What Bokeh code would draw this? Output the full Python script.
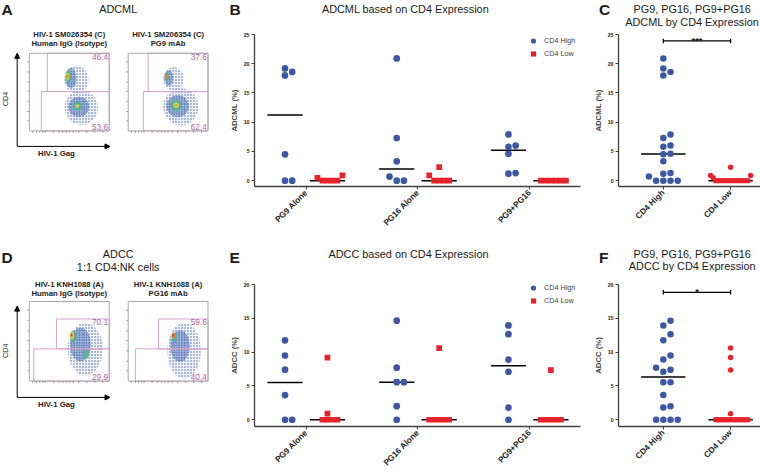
import numpy as np
from bokeh.plotting import figure
from bokeh.models import Range1d, Label, Legend, LegendItem, FixedTicker, Arrow, NormalHead
from bokeh.layouts import row, column
from bokeh.embed import file_html
from bokeh.resources import INLINE
from bokeh.core.properties import value

FONT = "Liberation Sans"
BLUE = "#3c58a5"
RED = "#e8222b"
AX = "#404040"
TXT = "#1a1a1a"
PINK_LINE = "#d7a3cc"
PINK_TEXT = "#bb5fa3"
BOXC = "#a8a8a8"

# ---------------- data: ADCML (%) panels B / C ----------------
groups = ["PG9 Alone", "PG16 Alone", "PG9+PG16"]
pooled = ["CD4 High", "CD4 Low"]
adcml_high_pg9 = [18.0, 19.2, 18.6, 4.5, 0.0, 0.0]
adcml_high_pg16 = [20.9, 7.3, 3.3, 0.7, 0.0, 0.0]
adcml_high_combo = [7.9, 5.8, 6.0, 4.6, 1.2, 1.3]
adcml_low_pg9 = [0.5, 0.0, 0.0, 0.0, 0.0, 0.9]
adcml_low_pg16 = [0.9, 2.3, 0.0, 0.0, 0.0, 0.0]
adcml_low_combo = [0.0, 0.0, 0.0, 0.0, 0.0, 0.0]
# ---------------- data: ADCC (%) panels E / F ----------------
adcc_high_pg9 = [11.75, 9.5, 7.4, 3.65, 0.0, 0.0]
adcc_high_pg16 = [14.65, 7.7, 5.55, 5.55, 2.0, 0.0]
adcc_high_combo = [13.95, 12.65, 8.9, 7.1, 1.8, 0.0]
adcc_low_pg9 = [0.9, 9.2, 0.0, 0.0, 0.0, 0.0]
adcc_low_pg16 = [10.6, 0.0, 0.0, 0.0, 0.0, 0.0]
adcc_low_combo = [7.35, 0.0, 0.0, 0.0, 0.0, 0.0]
adcml_ticks = [0, 5, 10, 15, 20, 25]
adcc_ticks = [0, 5, 10, 15, 20]
sig_adcml = ("***", 23.9)
sig_adcc = ("*", 18.84)

# ---------------- flow cytometry panels A / D ----------------
flowA1_title = ["HIV-1 SM026354 (C)", "Human IgG (Isotype)"]
flowA2_title = ["HIV-1 SM206354 (C)", "PG9 mAb"]
flowD1_title = ["HIV-1 KNH1088 (A)", "Human IgG (Isotype)"]
flowD2_title = ["HIV-1 KNH1088 (A)", "PG16 mAb"]
flowA1_pct = ["46.4", "53.6"]
flowA2_pct = ["37.6", "62.4"]
flowD1_pct = ["70.1", "29.9"]
flowD2_pct = ["59.6", "40.4"]
# gates: upper-left, upper-top, lower-left, split (fractions of the plot)
flowA1_gate = [0.225, 1.0, 0.15, 0.507]
flowA2_gate = [0.25, 1.0, 0.19, 0.507]
flowD1_gate = [0.34, 0.78, 0.055, 0.405]
flowD2_gate = [0.38, 0.78, 0.09, 0.405]
# density clouds: (x, y, width, height, density level)
flowA1_cells = [(0.59, 0.66, 0.30, 0.36, 0), (0.52, 0.68, 0.14, 0.26, 1), (0.49, 0.70, 0.07, 0.16, 2),
                (0.48, 0.70, 0.04, 0.10, 3), (0.475, 0.70, 0.025, 0.05, 4),
                (0.65, 0.30, 0.42, 0.44, 0), (0.62, 0.31, 0.26, 0.26, 1), (0.60, 0.32, 0.12, 0.12, 2),
                (0.60, 0.32, 0.05, 0.05, 3)]
flowA2_cells = [(0.57, 0.67, 0.26, 0.30, 0), (0.51, 0.68, 0.11, 0.20, 1), (0.485, 0.70, 0.05, 0.12, 2),
                (0.475, 0.70, 0.03, 0.07, 4),
                (0.66, 0.31, 0.44, 0.48, 0), (0.62, 0.32, 0.28, 0.28, 1), (0.60, 0.33, 0.15, 0.14, 2),
                (0.60, 0.33, 0.07, 0.07, 3), (0.60, 0.33, 0.03, 0.03, 4)]
flowD1_cells = [(0.70, 0.40, 0.44, 0.66, 0), (0.64, 0.46, 0.26, 0.42, 1), (0.71, 0.34, 0.07, 0.12, 2),
                (0.55, 0.56, 0.08, 0.15, 2), (0.535, 0.57, 0.05, 0.10, 3), (0.53, 0.575, 0.03, 0.06, 4),
                (0.525, 0.58, 0.015, 0.03, 5)]
flowD2_cells = [(0.70, 0.38, 0.42, 0.70, 0), (0.65, 0.44, 0.24, 0.40, 1), (0.58, 0.55, 0.07, 0.12, 2),
                (0.565, 0.57, 0.04, 0.08, 4), (0.56, 0.575, 0.02, 0.04, 5)]
flow_yticks = [0.13, 0.25, 0.38, 0.51, 0.63, 0.76, 0.89]
flow_xticks = [0.04, 0.09, 0.13, 0.17, 0.2, 0.3, 0.37, 0.42, 0.46, 0.5, 0.55, 0.62, 0.72, 0.82, 0.92]

LEVELS = [
    dict(fill_color="#e3eaf6", fill_alpha=0.5, hatch_pattern="dot", hatch_color="#3e5fae", hatch_scale=3.0, hatch_weight=0.9),
    dict(fill_color="#6f8fca", fill_alpha=0.55, hatch_pattern="dot", hatch_color="#27458f", hatch_scale=2.5, hatch_weight=1.0),
    dict(fill_color="#53b08f", fill_alpha=0.85),
    dict(fill_color="#d8d64a", fill_alpha=0.9),
    dict(fill_color="#f08633", fill_alpha=0.95),
    dict(fill_color="#d9362a", fill_alpha=1.0),
]

# ---------------- layout (css pixels) ----------------
S = 1.035                     # size factor
W_A, W_B, W_C = 212, 371, 179
H_HEAD1, H_BODY1 = 30, 206
H_HEAD2, H_BODY2 = 37, 200
TOP1, BOT1 = 4, 50
TOP2, BOT2 = 11, 44
L_B, R_B = 42, 3
L_C, R_C = 35, 0
H_ROW1 = H_HEAD1 + H_BODY1
H_ROW2 = H_HEAD2 + H_BODY2


def fs(px):
    return "%.2fpx" % (px * S)


def swarm(vals, ppu, d):
    vals = np.asarray(vals, float)
    order = np.argsort(vals, kind="stable")
    cand = [0]
    for k in range(1, 40):
        cand += [k, -k]
    placed = []
    slots = np.zeros(len(vals))
    for i in order:
        y = vals[i] * ppu
        taken = {s for yy, s in placed if abs(yy - y) < d}
        c = next(c for c in cand if c not in taken)
        slots[i] = c
        placed.append((y, c))
    return slots


def canvas(w, h, xr, yr):
    p = figure(width=w, height=h, x_range=Range1d(*xr), y_range=Range1d(*yr),
               output_backend="svg", toolbar_location=None, tools="", min_border=0,
               x_axis_type=None, y_axis_type=None)
    p.outline_line_color = None
    p.grid.visible = False
    return p


def txt(p, x, y, text, size, bold=False, align="center", baseline="middle", color=TXT, angle=0.0):
    p.text(x=x, y=y, text=text, text_font=value(FONT), text_font_size=size,
           text_font_style="bold" if bold else "normal", text_align=align, text_baseline=baseline,
           text_color=color, angle=angle)


def style_axes(p, xticks, xlabels, yticks, ylabel):
    p.xaxis.ticker = FixedTicker(ticks=xticks)
    p.xaxis.major_label_overrides = {t: l for t, l in zip(xticks, xlabels)}
    p.xaxis.major_label_orientation = np.pi / 4
    p.yaxis.ticker = FixedTicker(ticks=yticks)
    p.yaxis.axis_label = ylabel
    for ax in (p.xaxis[0], p.yaxis[0]):
        ax.axis_line_color = AX
        ax.axis_line_width = 1.35
        ax.major_tick_line_color = AX
        ax.major_tick_line_width = 1.1
        ax.major_tick_in = 0
        ax.major_tick_out = 3
        ax.minor_tick_line_color = None
        ax.major_label_text_font = FONT
        ax.major_label_text_font_style = "bold"
        ax.major_label_text_color = "#222222"
    p.yaxis.major_label_text_font_size = fs(5)
    p.yaxis.major_label_standoff = 2
    p.yaxis.axis_label_text_font = FONT
    p.yaxis.axis_label_text_font_style = "bold"
    p.yaxis.axis_label_text_font_size = fs(7.5)
    p.yaxis.axis_label_standoff = 2
    p.xaxis.major_label_text_font_size = fs(8)
    p.xaxis.major_label_standoff = 2


def grouped_panel(highs, lows, ymax, yticks, ylabel, h, ft, fb, legend_y):
    xr = (0.537, 3.455)
    p = figure(width=W_B, height=h, x_range=Range1d(*xr), y_range=Range1d(-1.0, ymax),
               output_backend="svg", toolbar_location=None, tools="",
               min_border_left=L_B, min_border_right=R_B, min_border_top=ft, min_border_bottom=fb)
    p.outline_line_color = None
    p.grid.visible = False
    frame_w = W_B - L_B - R_B
    frame_h = h - ft - fb
    ppu = frame_h / (ymax + 1.0)
    xppu = frame_w / (xr[1] - xr[0])
    bx, by, rx, ry = [], [], [], []
    for i, (hv, lv) in enumerate(zip(highs, lows)):
        c = i + 1
        sh = swarm(hv, ppu, 6.5)
        sl = swarm(lv, ppu, 6.2)
        bx += list(c - 0.19 + sh * 7.2 / xppu)
        by += list(hv)
        rx += list(c + 0.19 + sl * 5.0 / xppu)
        ry += list(lv)
        hw = 17.6 / xppu
        p.segment(x0=[c - 0.19 - hw, c + 0.19 - hw], x1=[c - 0.19 + hw, c + 0.19 + hw],
                  y0=[np.median(hv), np.median(lv)], y1=[np.median(hv), np.median(lv)],
                  line_color="black", line_width=1.5, level="underlay")
    rb = p.scatter(bx, by, marker="circle", size=6.7, fill_color=BLUE, line_color=None)
    rr = p.scatter(rx, ry, marker="square", size=5.7, fill_color=RED, line_color=None)
    style_axes(p, [1, 2, 3], groups, yticks, ylabel)
    leg = Legend(items=[LegendItem(label="CD4 High", renderers=[rb]), LegendItem(label="CD4 Low", renderers=[rr])],
                 location=(271, legend_y), border_line_color=None, background_fill_alpha=0,
                 padding=0, margin=0, spacing=0, glyph_width=16, glyph_height=13, label_height=13,
                 label_standoff=3, label_text_font=FONT, label_text_font_size=fs(7))
    p.add_layout(leg)
    return p


def pooled_panel(high, low, ymax, yticks, ylabel, sig, h, ft, fb):
    xr = (0.334, 2.474)
    p = figure(width=W_C, height=h, x_range=Range1d(*xr), y_range=Range1d(-1.0, ymax),
               output_backend="svg", toolbar_location=None, tools="",
               min_border_left=L_C, min_border_right=R_C, min_border_top=ft, min_border_bottom=fb)
    p.outline_line_color = None
    p.grid.visible = False
    frame_w = W_C - L_C - R_C
    frame_h = h - ft - fb
    ppu = frame_h / (ymax + 1.0)
    xppu = frame_w / (xr[1] - xr[0])
    sh = swarm(high, ppu, 6.7)
    sl = swarm(low, ppu, 6.2)
    hw = 22.2 / xppu
    p.segment(x0=[1 - hw, 2 - hw], x1=[1 + hw, 2 + hw], y0=[np.median(high), np.median(low)],
              y1=[np.median(high), np.median(low)], line_color="black", line_width=1.5, level="underlay")
    p.scatter(1 + sh * 7.2 / xppu, high, marker="circle", size=6.5, fill_color=BLUE, line_color=None)
    p.scatter(2 + sl * 2.5 / xppu, low, marker="circle", size=5.4, fill_color=RED, line_color=None)
    style_axes(p, [1, 2], pooled, yticks, ylabel)
    stars, sy = sig
    cap = 2.3 / ppu
    p.segment(x0=[1, 1, 2], x1=[2, 1, 2], y0=[sy, sy - cap, sy - cap], y1=[sy, sy + cap, sy + cap],
              line_color="black", line_width=1.2)
    p.add_layout(Label(x=1.5, y=sy, text=stars, text_font=FONT, text_font_size=fs(9), text_font_style="bold",
                       text_align="center", text_baseline="alphabetic", text_color=TXT))
    return p


def flow_box(p, bx, by, title, pct, gate, cells, title_y):
    sub = p.subplot(x_source=Range1d(0, 1), y_source=Range1d(0, 1),
                    x_target=Range1d(bx[0], bx[1]), y_target=Range1d(by[1], by[0]))
    for lvl in range(len(LEVELS)):
        sel = [c for c in cells if c[4] == lvl]
        if sel:
            sub.ellipse(x=[c[0] for c in sel], y=[c[1] for c in sel], width=[c[2] for c in sel],
                        height=[c[3] for c in sel], line_color=None, **LEVELS[lvl])
    ul, ut, ll, sp = gate
    sub.quad(left=[ul, ll], right=[1, 1], bottom=[sp, 0], top=[ut, sp], fill_color=None,
             line_color=PINK_LINE, line_width=1)
    sub.quad(left=[0], right=[1], bottom=[0], top=[1], fill_color=None, line_color=BOXC, line_width=1)
    n_y, n_x = len(flow_yticks), len(flow_xticks)
    sub.segment(x0=[0] * n_y, x1=[-0.025] * n_y, y0=flow_yticks, y1=flow_yticks,
                line_color="#888888", line_width=0.8)
    sub.segment(x0=flow_xticks, x1=flow_xticks, y0=[0] * n_x, y1=[-0.025] * n_x,
                line_color="#888888", line_width=0.8)
    ty = 0.985 if ut >= 1 else ut - 0.005
    sub.text(x=[0.985], y=[ty], text=[pct[0]], text_font=value(FONT), text_font_size=fs(8),
             text_color=PINK_TEXT, text_align="right", text_baseline="top")
    sub.text(x=[0.985], y=[0.015], text=[pct[1]], text_font=value(FONT), text_font_size=fs(8),
             text_color=PINK_TEXT, text_align="right", text_baseline="bottom")
    cx = (bx[0] + bx[1]) / 2
    txt(p, [cx, cx], title_y, title, fs(7.5), bold=True)


def flow_panel(top, h, letter, letter_y, heads, heads_y, boxes_y, titles_y, arrow_y, arrow_top, cd4_y, gag_y,
               specs):
    p = canvas(W_A, h, (8, 8 + W_A), (top + h, top))
    txt(p, [9], [letter_y], [letter], fs(15), bold=True, align="left", baseline="top")
    txt(p, [125.7] * len(heads), heads_y, heads, fs(10.5))
    for (bx, title, pct, gate, cells) in specs:
        flow_box(p, bx, boxes_y, title, pct, gate, cells, titles_y)
    head_kw = dict(size=5, fill_color="black", line_color="black", line_width=1)
    p.add_layout(Arrow(end=NormalHead(**head_kw), x_start=24.7, y_start=arrow_y, x_end=24.7, y_end=arrow_top,
                       line_color="black", line_width=1))
    p.add_layout(Arrow(end=NormalHead(**head_kw), x_start=24.7, y_start=arrow_y, x_end=117.5, y_end=arrow_y,
                       line_color="black", line_width=1))
    txt(p, [13], [cd4_y], ["CD4"], fs(7), angle=np.pi / 2)
    txt(p, [63.9], [gag_y], ["HIV-1 Gag"], fs(7.5), bold=True)
    return p


BOX1 = (36.9, 116.7)
BOX2 = (135.7, 215.5)
WBC = W_B + W_C
XBC = 8 + W_A

# ---- flow cytometry column (A, D) ----
pA = flow_panel(8, H_ROW1, "A", 8, ["ADCML"], [16.1], (60.8, 138.4), [41.5, 51.1], 153.9, 60.8, 106.5, 161.3,
                [(BOX1, flowA1_title, flowA1_pct, flowA1_gate, flowA1_cells),
                 (BOX2, flowA2_title, flowA2_pct, flowA2_gate, flowA2_cells)])
pD = flow_panel(8 + H_ROW1, H_ROW2, "D", 256.5, ["ADCC", "1:1 CD4:NK cells"], [261.5, 274], (309, 388.6),
                [292.2, 301.3], 404.9, 313.6, 358.2, 411.7,
                [(BOX1, flowD1_title, flowD1_pct, flowD1_gate, flowD1_cells),
                 (BOX2, flowD2_title, flowD2_pct, flowD2_gate, flowD2_cells)])

adcml_high = [adcml_high_pg9, adcml_high_pg16, adcml_high_combo]
adcml_low = [adcml_low_pg9, adcml_low_pg16, adcml_low_combo]
adcc_high = [adcc_high_pg9, adcc_high_pg16, adcc_high_combo]
adcc_low = [adcc_low_pg9, adcc_low_pg16, adcc_low_combo]

# ---- row 1 (B, C) ----
head1 = canvas(WBC, H_HEAD1, (XBC, XBC + WBC), (8 + H_HEAD1, 8))
txt(head1, [237, 606.5], [8, 8], ["B", "C"], fs(15), bold=True, align="left", baseline="top")
txt(head1, [413, 699.7, 699.7], [16.1, 16.6, 29.6],
    ["ADCML based on CD4 Expression", "PG9, PG16, PG9+PG16", "ADCML by CD4 Expression"], fs(10.5))
pB = grouped_panel(adcml_high, adcml_low, 25, adcml_ticks, "ADCML (%)", H_BODY1, TOP1, BOT1, 126)
pC = pooled_panel(sum(adcml_high, []), sum(adcml_low, []), 25, adcml_ticks, "ADCML (%)", sig_adcml,
                  H_BODY1, TOP1, BOT1)

# ---- row 2 (E, F) ----
y1 = 8 + H_ROW1
head2 = canvas(WBC, H_HEAD2, (XBC, XBC + WBC), (y1 + H_HEAD2, y1))
txt(head2, [237, 606.5], [256.5, 256.5], ["E", "F"], fs(15), bold=True, align="left", baseline="top")
txt(head2, [416, 699.7, 699.7], [261.5, 261.5, 273.5],
    ["ADCC based on CD4 Expression", "PG9, PG16, PG9+PG16", "ADCC by CD4 Expression"], fs(10.5))
pE = grouped_panel(adcc_high, adcc_low, 20, adcc_ticks, "ADCC (%)", H_BODY2, TOP2, BOT2, 119)
pF = pooled_panel(sum(adcc_high, []), sum(adcc_low, []), 20, adcc_ticks, "ADCC (%)", sig_adcc,
                  H_BODY2, TOP2, BOT2)

layout = row(column(pA, pD), column(head1, row(pB, pC), head2, row(pE, pF)))
open("out.html", "w").write(file_html(layout, INLINE))
